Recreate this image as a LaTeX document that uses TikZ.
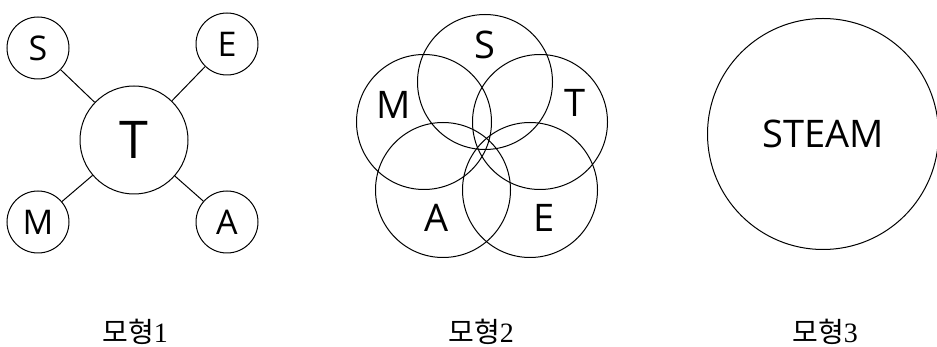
\documentclass[tikz,border=0pt]{standalone}
\usepackage{fontspec}
\setmainfont{Open Sans}
\newfontfamily\cjk{Noto Sans CJK KR}
\newfontfamily\digitfont{Liberation Serif}
\begin{document}
\begin{tikzpicture}[x=1pt,y=-1pt,
  circ/.style={draw,circle,inner sep=0pt,line width=1pt},
  smallc/.style={circ,minimum size=62pt,font=\fontsize{34}{34}\selectfont},
  bigc/.style={circ,minimum size=108pt,font=\fontsize{52}{52}\selectfont},
  vennc/.style={circ,minimum size=135pt},
  vennl/.style={inner sep=0pt,font=\fontsize{38}{38}\selectfont},
  link/.style={line width=1pt},
  lab/.style={inner sep=0pt,font=\fontsize{28}{28}\selectfont}]
\useasboundingbox (0,0) rectangle (937,347);
% model 1
\node[bigc] (T) at (134,140) {T};
\node[smallc] (S) at (38,48) {S};
\node[smallc] (E) at (227,44) {E};
\node[smallc] (M) at (38,222) {M};
\node[smallc] (A) at (227,222) {A};
\draw[link] (S) -- (T);
\draw[link] (E) -- (T);
\draw[link] (M) -- (T);
\draw[link] (A) -- (T);
% model 2
\node[vennc] (vS) at (485,82) {};
\node[vennc] (vM) at (424,122) {};
\node[vennc] (vT) at (540,122) {};
\node[vennc] (vA) at (443,190) {};
\node[vennc] (vE) at (530,190) {};
\node[vennl] (lS) at (485,45) {S};
\node[vennl] (lM) at (394,105) {M};
\node[vennl] (lT) at (575,103) {T};
\node[vennl] (lA) at (437,218) {A};
\node[vennl] (lE) at (544,218) {E};
% model 3
\node[circ,minimum size=231pt,font=\fontsize{38}{38}\selectfont] (all) at (823,134) {STEAM};
% captions
\node[lab] (c1) at (135,332) {{\cjk 모형}{\digitfont 1}};
\node[lab] (c2) at (481,332) {{\cjk 모형}{\digitfont 2}};
\node[lab] (c3) at (825,332) {{\cjk 모형}{\digitfont 3}};
\end{tikzpicture}
\end{document}
